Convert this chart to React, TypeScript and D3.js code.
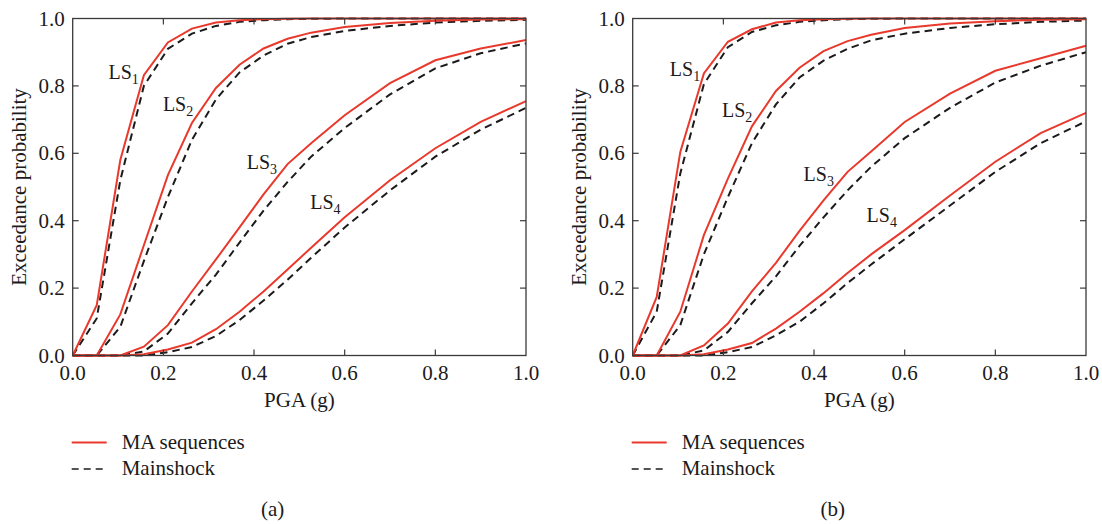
import React from "react";
import * as d3 from "d3";

// PGA sample points (g)
const pga = [0, 0.053, 0.105, 0.157, 0.21, 0.263, 0.316, 0.368, 0.421, 0.474, 0.526, 0.6, 0.7, 0.8, 0.9, 1.0];

// Panel (a)
const a_LS1_ma = [0, 0.149, 0.58, 0.832, 0.929, 0.97, 0.988, 0.995, 0.998, 0.999, 1, 1, 1, 1, 1, 1];
const a_LS1_ms = [0, 0.11, 0.52, 0.8, 0.91, 0.955, 0.978, 0.99, 0.995, 0.998, 0.999, 1, 1, 1, 1, 1];
const a_LS2_ma = [0, 0, 0.122, 0.327, 0.535, 0.69, 0.794, 0.863, 0.911, 0.94, 0.958, 0.975, 0.987, 0.993, 0.997, 0.998];
const a_LS2_ms = [0, 0, 0.085, 0.28, 0.47, 0.64, 0.76, 0.84, 0.89, 0.925, 0.945, 0.963, 0.978, 0.988, 0.993, 0.996];
const a_LS3_ma = [0, 0, 0, 0.026, 0.09, 0.19, 0.285, 0.38, 0.478, 0.568, 0.63, 0.713, 0.808, 0.876, 0.911, 0.936];
const a_LS3_ms = [0, 0, 0, 0.012, 0.065, 0.155, 0.24, 0.335, 0.43, 0.515, 0.59, 0.675, 0.775, 0.852, 0.897, 0.926];
const a_LS4_ma = [0, 0, 0, 0.004, 0.018, 0.038, 0.078, 0.13, 0.19, 0.255, 0.32, 0.41, 0.52, 0.615, 0.693, 0.755];
const a_LS4_ms = [0, 0, 0, 0, 0.01, 0.025, 0.058, 0.105, 0.163, 0.225, 0.29, 0.38, 0.49, 0.59, 0.67, 0.735];

// Panel (b)
const b_LS1_ma = [0, 0.174, 0.604, 0.837, 0.931, 0.968, 0.988, 0.995, 0.998, 0.999, 1, 1, 1, 1, 1, 1];
const b_LS1_ms = [0, 0.13, 0.54, 0.805, 0.915, 0.96, 0.98, 0.99, 0.995, 0.998, 0.999, 1, 1, 1, 1, 1];
const b_LS2_ma = [0, 0, 0.13, 0.357, 0.525, 0.68, 0.785, 0.854, 0.903, 0.933, 0.952, 0.972, 0.985, 0.992, 0.996, 0.998];
const b_LS2_ms = [0, 0, 0.09, 0.3, 0.47, 0.63, 0.745, 0.825, 0.875, 0.91, 0.935, 0.955, 0.972, 0.983, 0.99, 0.994];
const b_LS3_ma = [0, 0, 0, 0.03, 0.095, 0.19, 0.275, 0.37, 0.46, 0.545, 0.605, 0.693, 0.777, 0.845, 0.882, 0.919];
const b_LS3_ms = [0, 0, 0, 0.015, 0.07, 0.155, 0.235, 0.325, 0.41, 0.49, 0.56, 0.645, 0.735, 0.81, 0.86, 0.9];
const b_LS4_ma = [0, 0, 0, 0.004, 0.018, 0.037, 0.08, 0.13, 0.185, 0.245, 0.3, 0.372, 0.475, 0.575, 0.66, 0.72];
const b_LS4_ms = [0, 0, 0, 0, 0.01, 0.025, 0.06, 0.1, 0.155, 0.215, 0.27, 0.345, 0.445, 0.545, 0.63, 0.695];

const xTicks = [0, 0.2, 0.4, 0.6, 0.8, 1.0];
const yTicks = [0, 0.2, 0.4, 0.6, 0.8, 1.0];
const limitStates = ["1", "2", "3", "4"];
const legendLabels = ["MA sequences", "Mainshock"];

const RED = "#e8392c";
const DARK = "#1c1a1a";
const FRAME = "#3a3a3a";
const FONT = "Liberation Serif, Times New Roman, serif";

type PanelProps = {
  left: number;
  ma: number[][];
  ms: number[][];
  labelPos: [number, number][];
  letter: string;
};

function Panel({ left, ma, ms, labelPos, letter }: PanelProps) {
  const x0 = left;
  const x1 = left + 453.3;
  const yTop = 18.5;
  const yBot = 355.5;
  const x = d3.scaleLinear().domain([0, 1]).range([x0, x1]);
  const y = d3.scaleLinear().domain([0, 1]).range([yBot, yTop]);
  const line = d3
    .line<number>()
    .x((_, i) => x(pga[i]))
    .y((d) => y(d));
  const tl = 6;
  const fmt = d3.format(".1f");
  const txt = { fill: DARK, style: { fontFamily: FONT } } as const;
  return (
    <g>
      {ms.map((s, k) => (
        <path key={"ms" + k} d={line(s) || ""} fill="none" stroke={DARK} strokeWidth={2} strokeDasharray="7.5,5" />
      ))}
      {ma.map((s, k) => (
        <path key={"ma" + k} d={line(s) || ""} fill="none" stroke={RED} strokeWidth={2} />
      ))}
      <rect x={x0} y={yTop} width={x1 - x0} height={yBot - yTop} fill="none" stroke={FRAME} strokeWidth={1.3} />
      {xTicks.slice(1, -1).map((t) => (
        <g key={"xt" + t}>
          <line x1={x(t)} x2={x(t)} y1={yBot} y2={yBot - tl} stroke={FRAME} strokeWidth={1.2} />
          <line x1={x(t)} x2={x(t)} y1={yTop} y2={yTop + tl} stroke={FRAME} strokeWidth={1.2} />
        </g>
      ))}
      {yTicks.slice(1, -1).map((t) => (
        <g key={"yt" + t}>
          <line x1={x0} x2={x0 + tl} y1={y(t)} y2={y(t)} stroke={FRAME} strokeWidth={1.2} />
          <line x1={x1} x2={x1 - tl} y1={y(t)} y2={y(t)} stroke={FRAME} strokeWidth={1.2} />
        </g>
      ))}
      {xTicks.map((t) => (
        <text key={"xl" + t} x={x(t)} y={380} textAnchor="middle" fontSize={21} {...txt}>
          {fmt(t)}
        </text>
      ))}
      {yTicks.map((t) => (
        <text key={"yl" + t} x={x0 - 8} y={y(t) + 7} textAnchor="end" fontSize={21} {...txt}>
          {fmt(t)}
        </text>
      ))}
      <text x={(x0 + x1) / 2} y={407} textAnchor="middle" fontSize={21} {...txt}>
        PGA (g)
      </text>
      <text
        transform={`translate(${left - 47}, ${(yTop + yBot) / 2}) rotate(-90)`}
        textAnchor="middle"
        fontSize={21}
        {...txt}
      >
        Exceedance probability
      </text>
      {limitStates.map((ls, k) => (
        <text key={"ls" + ls} x={x(labelPos[k][0])} y={y(labelPos[k][1])} fontSize={20} {...txt}>
          LS
          <tspan fontSize={14} dy={5}>
            {ls}
          </tspan>
        </text>
      ))}
      <line x1={x0 - 1} x2={x0 + 34} y1={442.5} y2={442.5} stroke={RED} strokeWidth={2} />
      <line x1={x0 - 1} x2={x0 + 34} y1={469} y2={469} stroke={DARK} strokeWidth={1.6} strokeDasharray="7,5" />
      <text x={x0 + 49} y={448.5} fontSize={21} {...txt}>
        {legendLabels[0]}
      </text>
      <text x={x0 + 49} y={475} fontSize={21} {...txt}>
        {legendLabels[1]}
      </text>
      <text x={x0 + 200} y={516} textAnchor="middle" fontSize={21} {...txt}>
        {letter}
      </text>
    </g>
  );
}

export default function App() {
  return (
    <svg width={1102} height={524} style={{ position: "absolute", left: 0, top: 0, background: "#fff" }}>
      <rect width={1102} height={524} fill="#fff" />
      <Panel
        left={72.7}
        ma={[a_LS1_ma, a_LS2_ma, a_LS3_ma, a_LS4_ma]}
        ms={[a_LS1_ms, a_LS2_ms, a_LS3_ms, a_LS4_ms]}
        labelPos={[
          [0.079, 0.82],
          [0.199, 0.726],
          [0.384, 0.553],
          [0.524, 0.435],
        ]}
        letter="(a)"
      />
      <Panel
        left={632.7}
        ma={[b_LS1_ma, b_LS2_ma, b_LS3_ma, b_LS4_ma]}
        ms={[b_LS1_ms, b_LS2_ms, b_LS3_ms, b_LS4_ms]}
        labelPos={[
          [0.082, 0.83],
          [0.197, 0.709],
          [0.377, 0.519],
          [0.516, 0.396],
        ]}
        letter="(b)"
      />
    </svg>
  );
}
